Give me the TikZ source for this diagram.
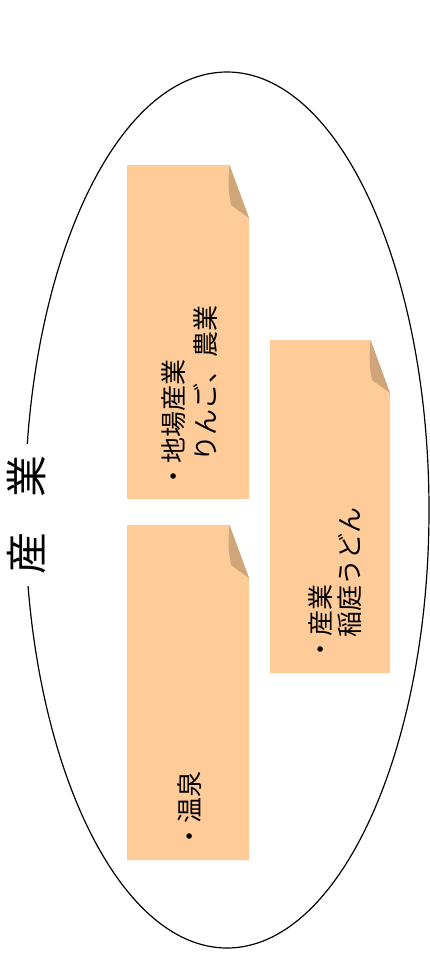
\documentclass[tikz,border=0pt]{standalone}
\usepackage{fontspec}
\newfontfamily\jp{Noto Sans CJK JP}
\usetikzlibrary{calc}
\definecolor{noteorange}{HTML}{FFCC99}
\definecolor{foldtan}{HTML}{CFA57A}
\tikzset{
  notebody/.style={minimum width=122pt, minimum height=334pt, inner sep=0pt, outer sep=0pt},
  notefill/.style={fill=noteorange},
  foldfill/.style={fill=foldtan},
  notetext/.style={rotate=90, anchor=west, inner sep=0pt, font=\jp\fontsize{26}{26}\selectfont},
  titletext/.style={rotate=90, fill=white, inner ysep=0pt, inner xsep=0pt, minimum width=142pt, font=\jp\fontsize{42}{42}\selectfont},
  outline/.style={draw=black, line width=1.2pt},
}
\newcommand{\notepaper}[1]{%
  \fill[notefill] (#1.south west) -- (#1.north west) -- ($(#1.north east)+(-19.5,0)$) -- ($(#1.north east)+(0,53)$) -- (#1.south east) -- cycle;
  \fill[foldfill] ($(#1.north east)+(-19.5,0)$) .. controls ($(#1.north east)+(-21,22)$) .. ($(#1.north east)+(-18,40)$) -- ($(#1.north east)+(0,53)$) -- cycle;
}
\begin{document}
\begin{tikzpicture}[x=1pt,y=-1pt]
\useasboundingbox (0,0) rectangle (430,953);
\coordinate (c) at (227,510);
\draw[outline] (c) ellipse [x radius=202pt, y radius=438pt];
\node[titletext] (title) at (27,514.5) {産\hspace{35pt}業};
% note 1
\node[notebody] (n1) at (188,332) {};
\notepaper{n1}
\node[notetext] (n1a) at (174,490) {・地場産業};
\node[notetext] (n1b) at (206,462) {りんご、農業};
% note 2
\node[notebody, minimum height=335pt] (n2) at (188,692.5) {};
\notepaper{n2}
\node[notetext] (n2a) at (190,850) {・温泉};
% note 3
\node[notebody, minimum width=120pt, minimum height=333pt] (n3) at (330,506.5) {};
\notepaper{n3}
\node[notetext] (n3a) at (321,663) {・産業};
\node[notetext] (n3b) at (350,638) {稲庭うどん};
\end{tikzpicture}
\end{document}
